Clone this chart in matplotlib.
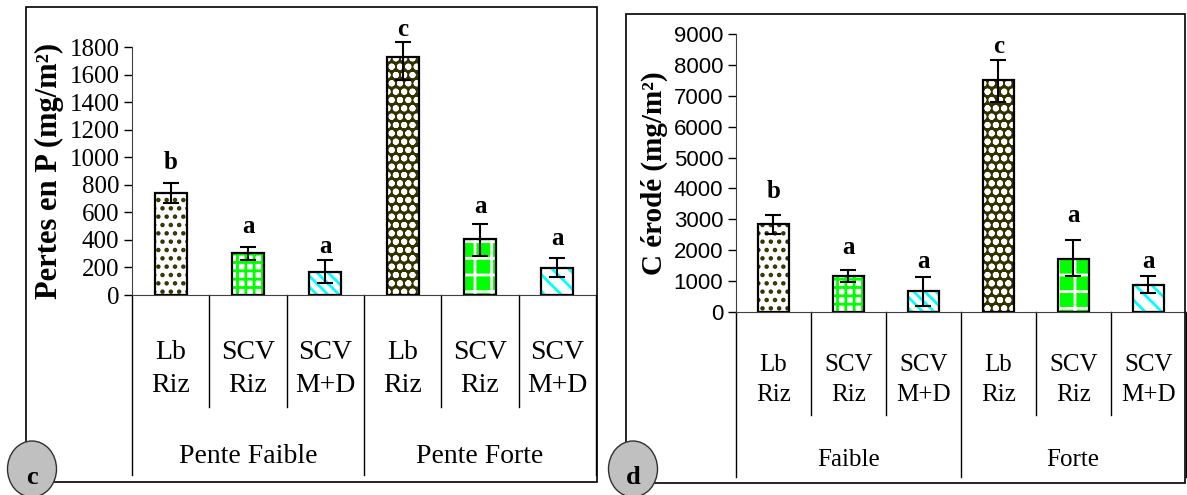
import numpy as np
import matplotlib
matplotlib.use('Agg')
import matplotlib.pyplot as plt
from matplotlib.patches import Rectangle, Ellipse
import matplotlib.transforms as mtrans

# data
treatments = ['Lb\nRiz', 'SCV\nRiz', 'SCV\nM+D', 'Lb\nRiz', 'SCV\nRiz', 'SCV\nM+D']
groups_c = ['Pente Faible', 'Pente Forte']
groups_d = ['Faible', 'Forte']

p_loss = [740, 302, 165, 1727, 405, 196]
p_err_lo = [75, 45, 80, 170, 120, 65]
p_err_hi = [75, 45, 90, 110, 110, 70]
p_letters = ['b', 'a', 'a', 'c', 'a', 'a']
p_letter_y = [965, 496, 350, 1930, 639, 410]

c_eroded = [2836, 1168, 672, 7508, 1720, 866]
c_err_lo = [320, 195, 490, 720, 560, 250]
c_err_hi = [310, 195, 445, 670, 615, 300]
c_letters = ['b', 'a', 'a', 'c', 'a', 'a']
c_letter_y = [3910, 2067, 1622, 8600, 3137, 1623]

DARK = '#333300'
GREEN = '#00ff00'
CYAN = '#00ffff'
styles = [
    dict(fc='white', hc=DARK, hatch='..'),
    dict(fc='white', hc=GREEN, hatch='++'),
    dict(fc='white', hc=CYAN, hatch='\\\\\\'),
    dict(fc=DARK, hc='white', hatch='oo'),
    dict(fc=GREEN, hc='white', hatch='+'),
    dict(fc='white', hc=CYAN, hatch='\\\\'),
]

plt.rcParams['hatch.linewidth'] = 2.0
SERIF = 'Liberation Serif'
SANS = 'Liberation Sans'

fig = plt.figure(figsize=(11.87, 4.95), dpi=100)


def panel(ax, vals, elo, ehi, letters, lety, groups, ymax, ystep, ylabel, ylsize,
          tickfont, ticksize, catsize, sep_short, sep_long, y_cat, y_grp, lsp):
    x = np.arange(len(vals))
    for i in range(len(vals)):
        s = styles[i]
        ax.bar(x[i], vals[i], width=0.41, color=s['fc'], edgecolor=s['hc'],
               hatch=s['hatch'], linewidth=0, zorder=2)
        ax.bar(x[i], vals[i], width=0.41, fill=False, edgecolor='black',
               linewidth=1.6, zorder=3)
    ax.errorbar(x, vals, yerr=[elo, ehi], fmt='none', ecolor='black',
                elinewidth=1.5, capsize=6, capthick=1.5, zorder=4, clip_on=False)
    for i in range(len(vals)):
        ax.text(x[i], lety[i], letters[i], ha='center', va='center',
                fontsize=18, fontweight='bold', family=SERIF, clip_on=False)
    ax.set_xlim(-0.5, len(vals) - 0.5)
    ax.set_ylim(0, ymax)
    ax.set_yticks(np.arange(0, ymax + 1, ystep))
    ax.tick_params(axis='y', direction='out', length=6, width=1, pad=3,
                   labelsize=ticksize)
    for t in ax.get_yticklabels():
        t.set_family(tickfont)
    ax.set_xticks([])
    for sp in ['top', 'right']:
        ax.spines[sp].set_visible(False)
    ax.spines['left'].set_color('#404040')
    ax.spines['bottom'].set_color('#404040')
    ax.set_ylabel(ylabel, fontsize=ylsize, fontweight='bold', family=SERIF,
                  labelpad=4)

    tr = mtrans.blended_transform_factory(ax.transData, ax.transAxes)
    for b in np.arange(-0.5, len(vals), 1.0):
        if b in (-0.5, 2.5, 5.5):
            y1 = sep_long
        else:
            y1 = sep_short
        ax.plot([b, b], [0, y1], color='black', lw=1.0, transform=tr,
                clip_on=False)
    for i in range(len(vals)):
        ax.text(x[i], y_cat, treatments[i], transform=tr, ha='center',
                va='center', fontsize=catsize, family=SERIF, linespacing=lsp)
    for g in range(2):
        ax.text(3 * g + 1, y_grp, groups[g], transform=tr, ha='center',
                va='center', fontsize=catsize, family=SERIF)


ax1 = fig.add_axes([132 / 1187, (495 - 295) / 495, 464 / 1187, 248 / 495])
panel(ax1, p_loss, p_err_lo, p_err_hi, p_letters, p_letter_y, groups_c, 1800, 200,
      'Pertes en P (mg/m²)', 22, SERIF, 18, 20,
      -0.450, -0.726, -0.298, -0.652, 1.4)

ax2 = fig.add_axes([735.7 / 1187, (495 - 311.7) / 495, 450 / 1187, 277.4 / 495])
panel(ax2, c_eroded, c_err_lo, c_err_hi, c_letters, c_letter_y, groups_d, 9000, 1000,
      'C érodé (mg/m²)', 21, SANS, 16, 18,
      -0.372, -0.596, -0.246, -0.535, 1.5)

W, H = 1187, 495
for (x0, y0, x1, y1) in [(26, 7, 597, 482), (626, 14, 1185, 483)]:
    fig.patches.append(Rectangle((x0 / W, 1 - y1 / H), (x1 - x0) / W,
                                 (y1 - y0) / H, transform=fig.transFigure,
                                 fill=False, edgecolor='black', lw=1.2,
                                 zorder=1))

for (cx, cy, lab) in [(32, 469, 'c'), (633, 469, 'd')]:
    fig.patches.append(Ellipse((cx / W, 1 - cy / H), 49 / W, 56 / H,
                               transform=fig.transFigure, facecolor='#c0c0c0',
                               edgecolor='#303030', lw=1.0, zorder=5))
    fig.text(cx / W, 1 - (cy + 8) / H, lab, ha='center', va='center',
             fontsize=19, fontweight='bold', family=SERIF, zorder=6)

fig.savefig('out.png', dpi=100)
